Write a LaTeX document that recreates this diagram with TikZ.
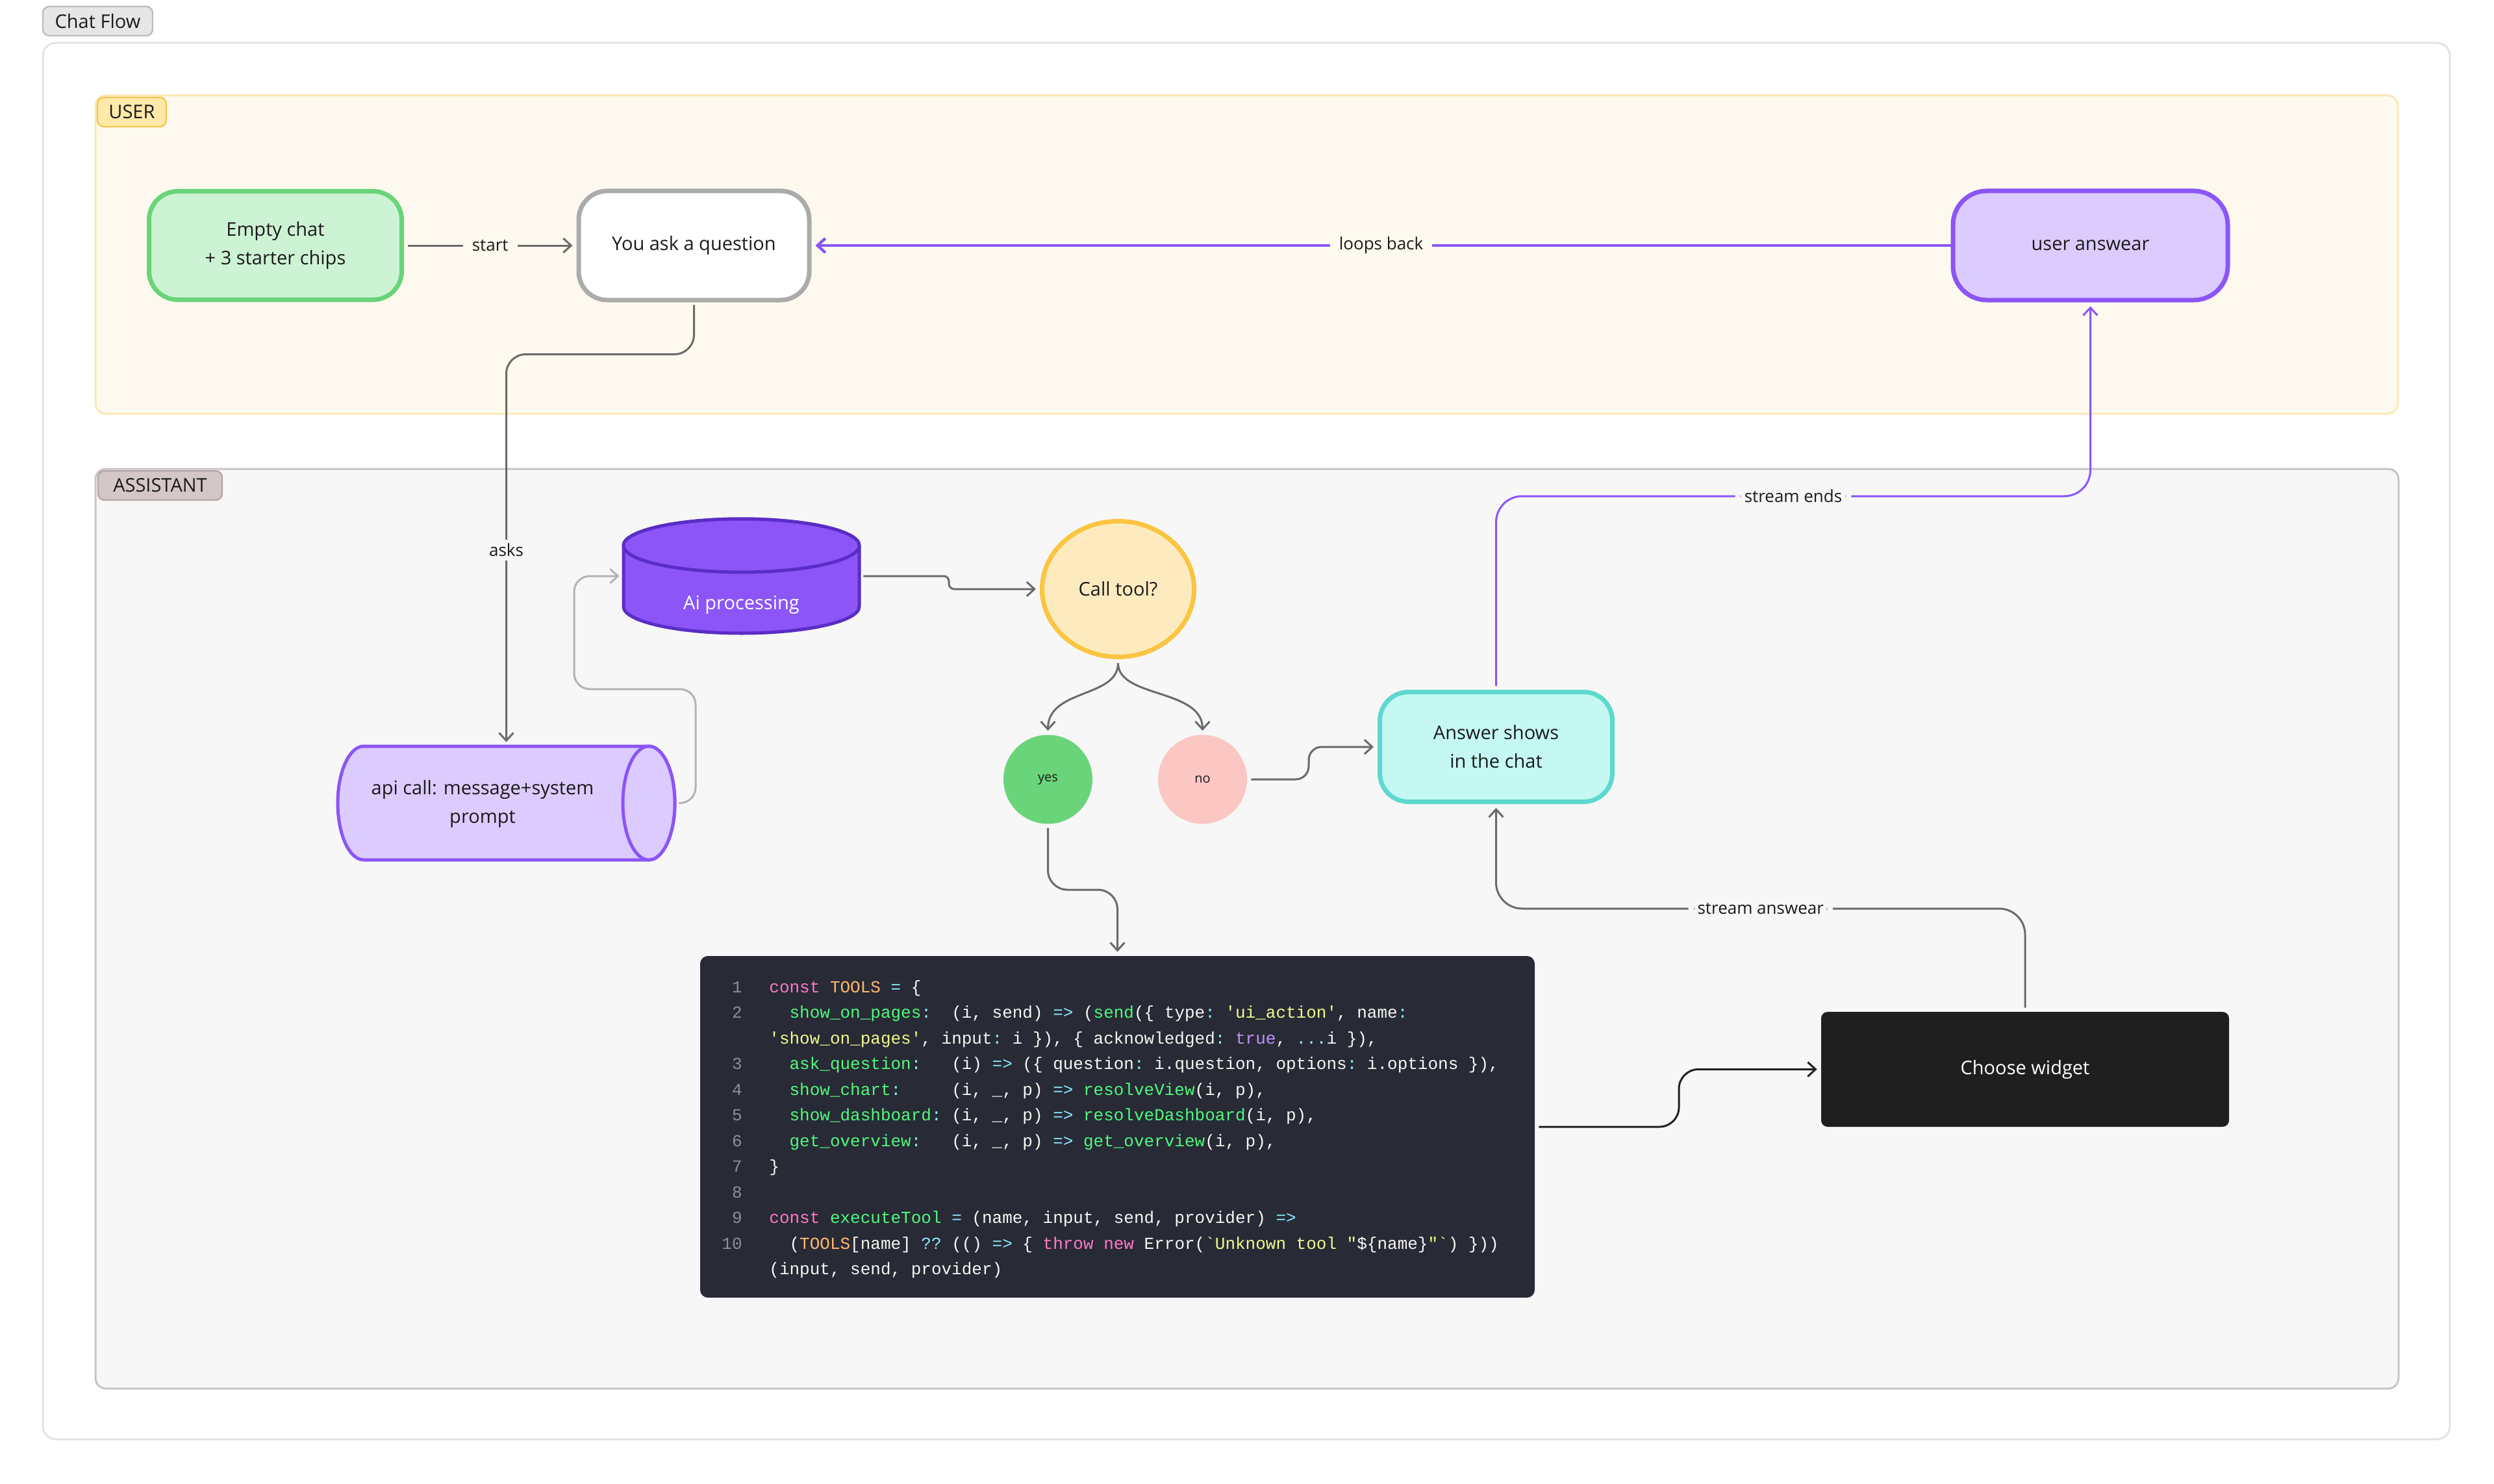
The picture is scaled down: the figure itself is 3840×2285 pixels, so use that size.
\documentclass[tikz,border=0pt]{standalone}
\usepackage{fontspec}
\setmainfont{Open Sans}
\setmonofont{Liberation Mono}
\usetikzlibrary{arrows.meta,shapes.geometric}
\definecolor{ink}{HTML}{1A1A1A}
\definecolor{framestroke}{HTML}{E3E3E3}
\definecolor{userlane}{HTML}{FEF9EE}
\definecolor{userlanestroke}{HTML}{FCE7B6}
\definecolor{usertag}{HTML}{FFE9A8}
\definecolor{usertagstroke}{HTML}{F5C54E}
\definecolor{asslane}{HTML}{F7F7F7}
\definecolor{asslanestroke}{HTML}{C9C4C4}
\definecolor{asstag}{HTML}{D5C7C7}
\definecolor{asstagstroke}{HTML}{B5A7A7}
\definecolor{chattag}{HTML}{E6E6E6}
\definecolor{chattagstroke}{HTML}{BDBDBD}
\definecolor{greenf}{HTML}{CDF3D5}
\definecolor{greenb}{HTML}{6AD47A}
\definecolor{grayb}{HTML}{ABABAB}
\definecolor{purplef}{HTML}{DCCBFE}
\definecolor{purpleb}{HTML}{8B55F7}
\definecolor{aidark}{HTML}{5A2DC6}
\definecolor{goldf}{HTML}{FDEBBF}
\definecolor{goldb}{HTML}{FBC441}
\definecolor{yesf}{HTML}{6AD47A}
\definecolor{nof}{HTML}{FCC6C2}
\definecolor{tealf}{HTML}{C5F8F3}
\definecolor{tealb}{HTML}{5ED8CE}
\definecolor{widget}{HTML}{1F1F1F}
\definecolor{codebg}{HTML}{282A36}
\definecolor{codetext}{HTML}{F8F8F2}
\definecolor{lnumc}{HTML}{8C8F99}
\definecolor{ck}{HTML}{FF79C6}
\definecolor{co}{HTML}{FFB86C}
\definecolor{cg}{HTML}{50FA7B}
\definecolor{cy}{HTML}{F1FA8C}
\definecolor{cp}{HTML}{BD93F9}
\definecolor{cc}{HTML}{8BE9FD}
\definecolor{edgegray}{HTML}{6A6A6A}
\definecolor{edgelight}{HTML}{B3B3B3}
\definecolor{edgedark}{HTML}{222222}
\newcommand\cgap[1]{\hskip#1\fontcharwd\font`x\relax}
\begin{document}
\begin{tikzpicture}[x=0.5pt,y=-0.5pt,
  every node/.style={text=ink, font=\fontsize{14.5}{22}\selectfont},
  nodebox/.style={draw, line width=3.5pt, rounded corners=22pt, align=center, inner sep=0pt},
  tagbox/.style={draw, line width=1.2pt, rounded corners=5pt, inner sep=0pt, font=\fontsize{14.5}{14.5}\selectfont},
  conn/.style={draw=edgegray, line width=1.5pt, -{Straight Barb[length=6pt,width=11pt]}, shorten >=3pt, shorten <=3pt},
  pconn/.style={conn, draw=purpleb},
  lbl/.style={font=\fontsize{13}{13}\selectfont, inner xsep=7pt, inner ysep=3pt},
  codeline/.style={anchor=base west, inner sep=0pt, text=codetext, font=\ttfamily\fontsize{13}{13}\selectfont},
  lnum/.style={anchor=base east, inner sep=0pt, text=lnumc, font=\ttfamily\fontsize{13}{13}\selectfont}]
\useasboundingbox (0,0) rectangle (3840,2285);
\fill[white] (0,0) rectangle (3840,2285);
% frame and lanes
\draw[framestroke, line width=1.5pt, fill=white, rounded corners=10pt] (66,66) rectangle (3772,2216);
\node[tagbox, fill=chattag, draw=chattagstroke, minimum width=84.5pt, minimum height=22.5pt] (tagchat) at (150.5,32.5) {Chat Flow};
\draw[userlanestroke, fill=userlane, line width=1.5pt, rounded corners=8pt] (147,147) rectangle (3692,637);
\node[tagbox, fill=usertag, draw=usertagstroke, minimum width=53pt, minimum height=22.5pt] (taguser) at (203,172.5) {USER};
\draw[asslanestroke, fill=asslane, line width=1.5pt, rounded corners=8pt] (147,722) rectangle (3693,2138);
\node[tagbox, fill=asstag, draw=asstagstroke, minimum width=95.5pt, minimum height=22.5pt] (tagasst) at (246.5,747.5) {ASSISTANT};
% user lane nodes
\node[nodebox, draw=greenb, fill=greenf, minimum width=194.5pt, minimum height=83.5pt] (empty) at (424,378) {Empty chat\\+ 3 starter chips};
\node[nodebox, draw=grayb, fill=white, minimum width=177.5pt, minimum height=84pt] (ask) at (1068.5,378) {You ask a question};
\node[nodebox, draw=purpleb, fill=purplef, minimum width=211.5pt, minimum height=84pt, rounded corners=26pt] (ua) at (3218.5,378) {user answear};
% ai processing cylinder
\path[fill=purpleb, draw=aidark, line width=2.5pt] (960,840) -- (960,934) arc[start angle=180, end angle=360, x radius=90.75pt, y radius=20.5pt] -- (1323,840) arc[start angle=0, end angle=180, x radius=90.75pt, y radius=20.5pt] -- cycle;
\draw[fill=purpleb, draw=aidark, line width=2.5pt] (1141.5,840) ellipse[x radius=90.75pt, y radius=20.5pt];
\node[minimum width=181.5pt, minimum height=88pt, inner sep=0pt] (ai) at (1141.5,887) {};
\node[text=white] (aitext) at (1141.5,931) {Ai processing};
% api call cylinder
\path[fill=purplef, draw=purpleb, line width=2.5pt] (560,1149) -- (999,1149) arc[start angle=90, end angle=-90, x radius=20pt, y radius=43.75pt] -- (560,1324) arc[start angle=270, end angle=90, x radius=20pt, y radius=43.75pt] -- cycle;
\draw[fill=purplef, draw=purpleb, line width=2.5pt] (999,1236.5) ellipse[x radius=20pt, y radius=43.75pt];
\node[minimum width=259.5pt, minimum height=87.5pt, inner sep=0pt] (api) at (779.5,1236.5) {};
\node[align=center] (apitext) at (743,1238) {api call: message+system\\prompt};
% decision
\node[draw=goldb, fill=goldf, line width=3.5pt, ellipse, inner sep=0pt, minimum width=117pt, minimum height=104.5pt] (ct) at (1721.5,907) {Call tool?};
\node[circle, fill=yesf, minimum size=68.5pt, inner sep=0pt, font=\fontsize{10}{10}\selectfont] (yes) at (1613.5,1200) {yes};
\node[circle, fill=nof, minimum size=68.5pt, inner sep=0pt, font=\fontsize{10}{10}\selectfont] (no) at (1851.5,1200) {no};
\node[nodebox, draw=tealb, fill=tealf, minimum width=179pt, minimum height=84.5pt] (ans) at (2303.5,1150) {Answer shows\\in the chat};
\node[fill=widget, rounded corners=5pt, minimum width=314pt, minimum height=88.5pt, text=white, inner sep=0pt] (choose) at (3118,1646.5) {Choose widget};
% code block
\node[fill=codebg, rounded corners=6pt, minimum width=642.5pt, minimum height=263pt, inner sep=0pt] (code) at (1720.5,1735) {};
\node[lnum] (n1) at (1143,1528) {1};
\node[lnum] (n2) at (1143,1567.5) {2};
\node[lnum] (n3) at (1143,1646.5) {3};
\node[lnum] (n4) at (1143,1686) {4};
\node[lnum] (n5) at (1143,1725.5) {5};
\node[lnum] (n6) at (1143,1765) {6};
\node[lnum] (n7) at (1143,1804.5) {7};
\node[lnum] (n8) at (1143,1844) {8};
\node[lnum] (n9) at (1143,1883.5) {9};
\node[lnum] (n10) at (1143,1923) {10};
\node[codeline] (c1) at (1184,1528) {\textcolor{ck}{const} \textcolor{co}{TOOLS} \textcolor{cc}{=} \{};
\node[codeline] (c2) at (1184,1567.5) {\cgap{2}\textcolor{cg}{show\_on\_pages}\textcolor{cc}{:}\cgap{2}(i, send) \textcolor{cc}{=>} (\textcolor{cg}{send}(\{ type\textcolor{cc}{:} \textcolor{cy}{'ui\_action'}, name\textcolor{cc}{:}};
\node[codeline] (c3) at (1184,1607) {\textcolor{cy}{'show\_on\_pages'}, input\textcolor{cc}{:} i \}), \{ acknowledged\textcolor{cc}{:} \textcolor{cp}{true}, \textcolor{cc}{...}i \}),};
\node[codeline] (c4) at (1184,1646.5) {\cgap{2}\textcolor{cg}{ask\_question}\textcolor{cc}{:}\cgap{3}(i) \textcolor{cc}{=>} (\{ question\textcolor{cc}{:} i.question, options\textcolor{cc}{:} i.options \}),};
\node[codeline] (c5) at (1184,1686) {\cgap{2}\textcolor{cg}{show\_chart}\textcolor{cc}{:}\cgap{5}(i, \_, p) \textcolor{cc}{=>} \textcolor{cg}{resolveView}(i, p),};
\node[codeline] (c6) at (1184,1725.5) {\cgap{2}\textcolor{cg}{show\_dashboard}\textcolor{cc}{:} (i, \_, p) \textcolor{cc}{=>} \textcolor{cg}{resolveDashboard}(i, p),};
\node[codeline] (c7) at (1184,1765) {\cgap{2}\textcolor{cg}{get\_overview}\textcolor{cc}{:}\cgap{3}(i, \_, p) \textcolor{cc}{=>} \textcolor{cg}{get\_overview}(i, p),};
\node[codeline] (c8) at (1184,1804.5) {\}};
\node[codeline] (c10) at (1184,1883.5) {\textcolor{ck}{const} \textcolor{cg}{executeTool} \textcolor{cc}{=} (name, input, send, provider) \textcolor{cc}{=>}};
\node[codeline] (c11) at (1184,1923) {\cgap{2}(\textcolor{co}{TOOLS}[name] \textcolor{cc}{??} (() \textcolor{cc}{=>} \{ \textcolor{ck}{throw} \textcolor{ck}{new} Error(\textcolor{cy}{`Unknown tool "}\$\{name\}\textcolor{cy}{"`}) \}))};
\node[codeline] (c12) at (1184,1962.5) {(input, send, provider)};
% connectors
\draw[conn] (empty) -- node[lbl, fill=userlane] (lstart) {start} (ask);
\draw[pconn, line width=2.2pt, shorten <=0pt] (ua) -- node[lbl, fill=userlane] (lloop) {loops back} (ask);
\draw[conn, rounded corners=15pt, shorten <=2pt] (ask.south) -- ++(0,80) -| node[pos=0.75, lbl, fill=asslane] (lasks) {asks} (api.north);
\draw[conn, draw=edgelight, rounded corners=12pt] (api.east) -| (1071,1061) -| (884,887) -- (ai.west);
\draw[conn, rounded corners=4pt] (ai.east) -- (1461,887) -- (1461,907) -- (ct.west);
\draw[conn] (ct.south) .. controls (1721.5,1075) and (1613.5,1060) .. (yes.north);
\draw[conn] (ct.south) .. controls (1721.5,1075) and (1851.5,1060) .. (no.north);
\draw[conn, rounded corners=10pt] (no.east) -- (2015,1200) -- (2015,1150) -- (ans.west);
\draw[conn, rounded corners=15pt] (yes.south) -- (1613.5,1370) -| (code.north);
\draw[conn, draw=edgedark, rounded corners=15pt] (code.east) -- (2585,1735) -- (2585,1646.5) -- (choose.west);
\draw[conn, rounded corners=20pt] (choose.north) -- (choose.north |- 0,1399) -| node[pos=0.25, lbl, fill=asslane] (lsans) {stream answear} (ans.south);
\draw[pconn, rounded corners=20pt] (ans.north) -- (ans.north |- 0,764) -| node[pos=0.25, lbl, fill=asslane] (lsends) {stream ends} (ua.south);
\end{tikzpicture}
\end{document}
